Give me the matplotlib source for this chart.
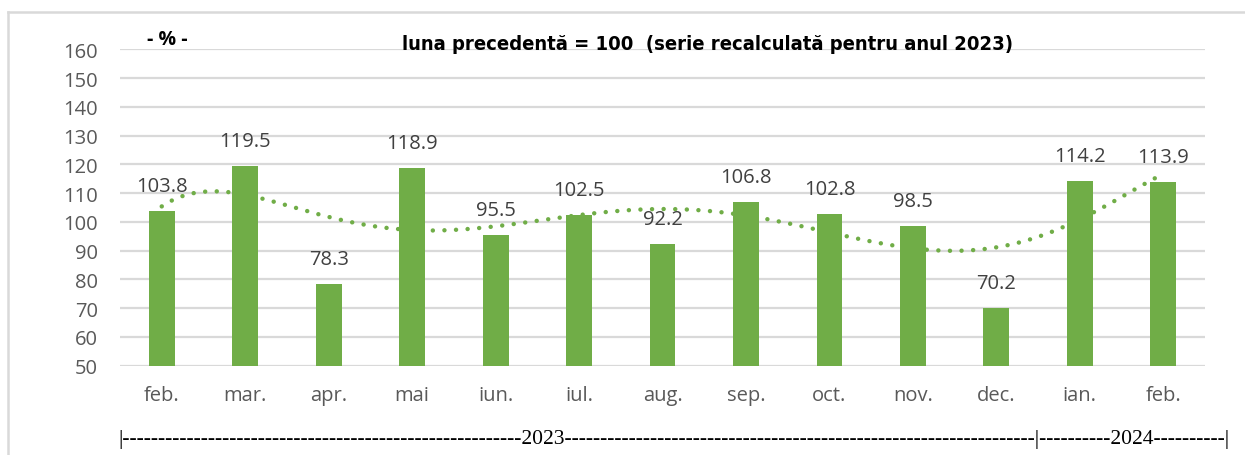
import numpy as np
import matplotlib
matplotlib.use("Agg")
import matplotlib.pyplot as plt
from matplotlib.lines import Line2D

# date: indici luna precedenta = 100
luni = ['feb.', 'mar.', 'apr.', 'mai', 'iun.', 'iul.', 'aug.', 'sep.', 'oct.', 'nov.', 'dec.', 'ian.', 'feb.']
valori = [103.8, 119.5, 78.3, 118.9, 95.5, 102.5, 92.2, 106.8, 102.8, 98.5, 70.2, 114.2, 113.9]
yticks = list(range(50, 161, 10))

titlu = 'luna precedentă = 100  (serie recalculată pentru anul 2023)'
ani = '|' + '-' * 56 + '2023' + '-' * 66 + '|' + '-' * 10 + '2024' + '-' * 10 + '|'

verde = '#70AD47'
gri_text = '#595959'
gri_grid = '#D9D9D9'

plt.rcParams['font.family'] = ['Open Sans', 'DejaVu Sans']

fig = plt.figure(figsize=(12.45, 4.56), dpi=100)
ax = fig.add_axes([0.0964, 0.196, 0.8715, 0.6935])

x = np.arange(len(valori))
ax.bar(x, valori, width=0.31, color=verde, zorder=3)

# linie de tendinta polinomiala (ca in Excel)
coef = np.polyfit(x + 1, valori, 6)
xs = np.linspace(0, len(valori) - 1, 300)
ax.plot(xs, np.polyval(coef, xs + 1), color=verde, lw=3.2,
        linestyle=(0, (0.01, 2.6)), dash_capstyle='round', zorder=2)

for xi, v in zip(x, valori):
    ax.annotate(f'{v:.1f}', (xi, v), xytext=(0, 18), textcoords='offset points',
                ha='center', va='center', fontsize=14.5, color='#404040', zorder=4)

ax.set_xlim(-0.5, len(valori) - 0.5)
ax.set_ylim(50, 160)
ax.set_yticks(yticks)
ax.set_xticks(x)
ax.set_xticklabels(luni)
ax.tick_params(axis='both', length=0, labelsize=14.5, colors=gri_text)
ax.tick_params(axis='y', pad=16)
ax.tick_params(axis='x', pad=14)
ax.yaxis.grid(True, color=gri_grid, lw=1.6, zorder=0)
ax.set_axisbelow(True)
for s in ax.spines.values():
    s.set_visible(False)

fig.text(707 / 1245, 1 - 44 / 456, titlu, ha='center', va='center', fontsize=14.5,
         fontweight='bold', fontstretch='condensed',
         family=['Liberation Sans Narrow', 'DejaVu Sans'])
fig.text(167 / 1245, 1 - 40 / 456, '- % -', ha='center', va='center', fontsize=14,
         fontweight='bold')
fig.text(118 / 1245, 1 - 440 / 456, ani, ha='left', va='center', fontsize=15.5,
         family=['Liberation Serif', 'DejaVu Serif'], color='black')

# chenar exterior
fig.add_artist(Line2D([8 / 1245, 8 / 1245], [0, 1 - 13 / 456], transform=fig.transFigure,
                      color=gri_grid, lw=1.8))
fig.add_artist(Line2D([8 / 1245, 1], [1 - 13 / 456, 1 - 13 / 456], transform=fig.transFigure,
                      color=gri_grid, lw=1.8))

fig.savefig('out.png', dpi=100)
